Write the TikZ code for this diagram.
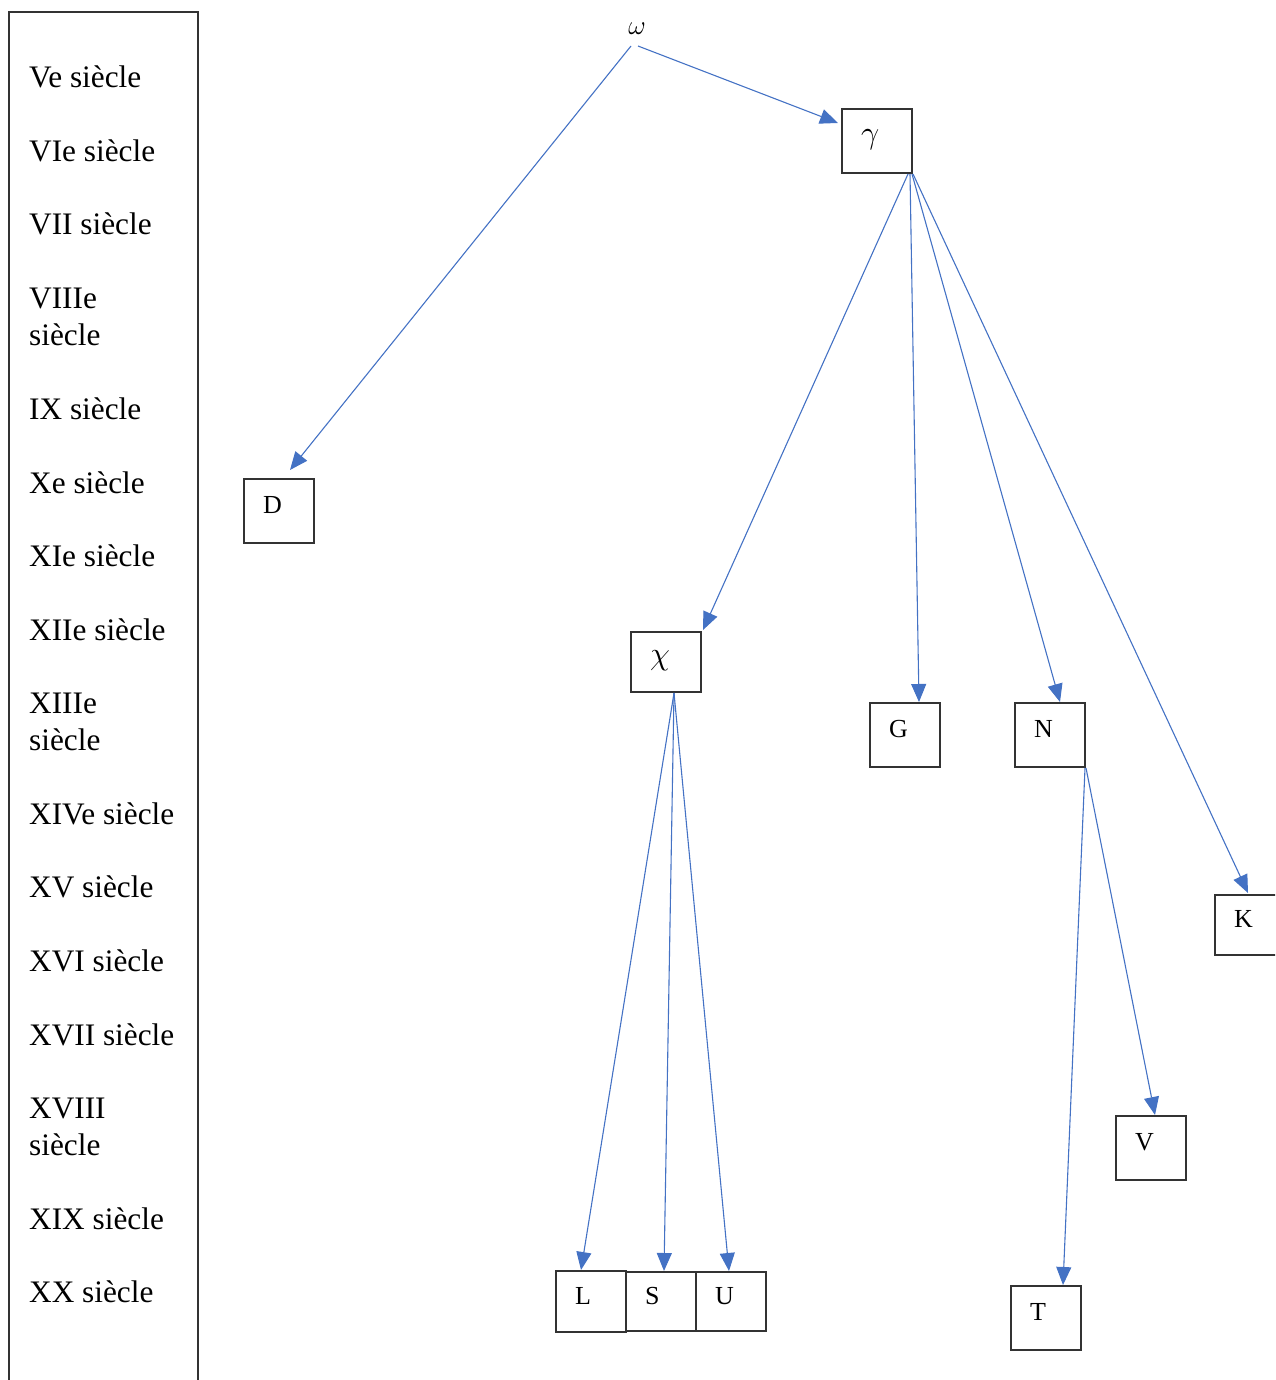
\documentclass[tikz,border=0pt]{standalone}
\usepackage{fontspec}
\setmainfont{Liberation Serif}
\usetikzlibrary{arrows.meta,positioning,calc}
\definecolor{bleu}{RGB}{68,114,196}
\newcommand{\grec}[1]{\scalebox{1.3}{$#1$}}
\begin{document}
\begin{tikzpicture}[x=1pt,y=-1pt,
    siecle/.style={anchor=base west,inner sep=0pt,font=\fontsize{31.3}{37}\selectfont,align=left},
    boite/.style={draw=black!80,line width=1.2pt,outer sep=0pt,minimum height=64pt,
      text width=32pt,inner xsep=19pt,inner ysep=0pt,text height=15pt,text depth=10pt,
      align=left,font=\fontsize{26}{30}\selectfont},
    fleche/.style={draw=bleu,line width=1.1pt,-{Triangle[length=18pt,width=15pt]}}]
  \useasboundingbox (0,0) rectangle (1275,1380);
  \clip (0,0) rectangle (1275,1380);
  % colonne des siecles
  \draw[black!80,line width=1.2pt] (9,1400) -- (9,12) -- (198,12) -- (198,1400);
  \node[siecle] (s5) at (29,88) {Ve siècle};
  \node[siecle] (s6) at (29,162) {VIe siècle};
  \node[siecle] (s7) at (29,235) {VII siècle};
  \node[siecle] (s8) at (29,345) {VIIIe\\siècle};
  \node[siecle] (s9) at (29,419) {IX siècle};
  \node[siecle] (s10) at (29,493) {Xe siècle};
  \node[siecle] (s11) at (29,566) {XIe siècle};
  \node[siecle] (s12) at (29,640) {XIIe siècle};
  \node[siecle] (s13) at (29,750) {XIIIe\\siècle};
  \node[siecle] (s14) at (29,824) {XIVe siècle};
  \node[siecle] (s15) at (29,897) {XV siècle};
  \node[siecle] (s16) at (29,971) {XVI siècle};
  \node[siecle] (s17) at (29,1045) {XVII siècle};
  \node[siecle] (s18) at (29,1155) {XVIII\\siècle};
  \node[siecle] (s19) at (29,1229) {XIX siècle};
  \node[siecle] (s20) at (29,1302) {XX siècle};
  % stemma
  \node[inner sep=0pt,font=\fontsize{22}{26}\selectfont] (omega) at (637,29) {\grec{\omega}};
  \node[boite] (gamma) at (877,141) {\grec{\gamma}};
  \node[boite] (D) at (279,511) {D};
  \node[boite,minimum height=60pt] (chi) at (666,662) {\grec{\chi}};
  \node[boite] (G) at (905,735) {G};
  \node[boite] (N) at (1050,735) {N};
  \node[boite,minimum height=60pt] (K) at (1250,925) {K};
  \node[boite] (V) at (1151,1148) {V};
  \node[boite,minimum height=61pt] (L) at (591,1301.5) {L};
  \node[boite,minimum height=59pt,right=0pt of L] (S) {S};
  \node[boite,minimum height=59pt,right=0pt of S] (U) {U};
  \node[boite] (T) at (1046,1318) {T};
  \begin{scope}[fleche]
    \draw ($(omega.south)+(-6,11)$) -- ($(D.north west)+(46,-9)$);
    \draw ($(omega.south)+(1,11)$) -- ($(gamma.north west)+(-4,14)$);
    \draw ($(gamma.south east)+(-4,1)$) -- ($(chi.north east)+(2,-2)$);
    \draw ($(gamma.south east)+(-2,1)$) -- ($(G.north)+(14,-1)$);
    \draw ($(gamma.south east)+(0,1)$) -- ($(N.north)+(10,-1)$);
    \draw ($(gamma.south east)+(1,1)$) -- ($(K.north west)+(33,-2)$);
    \draw ($(chi.south)+(8,1)$) -- ($(L.north)+(-10,-1)$);
    \draw ($(chi.south)+(8,1)$) -- ($(S.north)+(3,-1)$);
    \draw ($(chi.south)+(8,1)$) -- ($(U.north)+(-2,-1)$);
    \draw ($(N.south east)+(0,1)$) -- ($(T.north)+(17,-1)$);
    \draw ($(N.south east)+(1,1)$) -- ($(V.north)+(4,-1)$);
  \end{scope}
\end{tikzpicture}
\end{document}
